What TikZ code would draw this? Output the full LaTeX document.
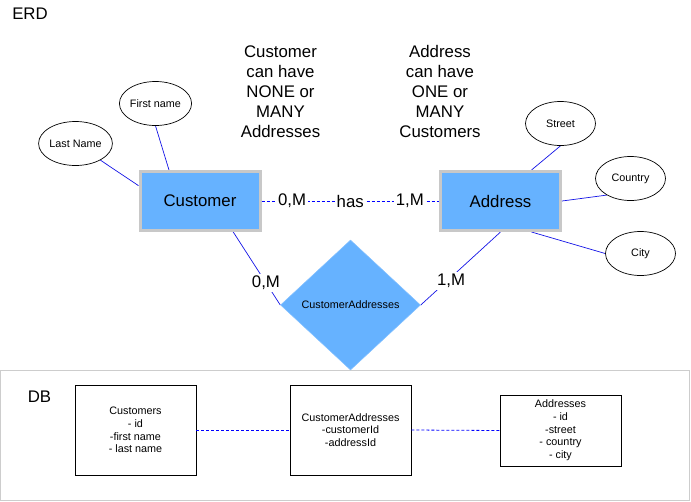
\documentclass[tikz,border=0pt]{standalone}
\usepackage{fontspec}
\setmainfont{Liberation Sans}
\usetikzlibrary{shapes.geometric,backgrounds}
\definecolor{cfill}{RGB}{102,178,255}
\definecolor{cgray}{RGB}{200,200,200}
\definecolor{lblue}{RGB}{20,20,230}
\definecolor{dblue}{RGB}{0,0,255}
\definecolor{dbgray}{RGB}{205,205,205}
\newcommand{\bigf}{\fontsize{16.8}{20}\selectfont}
\newcommand{\smallf}{\fontsize{10.8}{12.7}\selectfont}
\tikzset{
  entity/.style={rectangle, fill=cfill, draw=cgray, line width=3pt, minimum width=120pt, minimum height=59pt, inner sep=0pt, font=\bigf},
  attr/.style={ellipse, draw=black, line width=0.7pt, minimum width=70pt, minimum height=44pt, inner sep=0pt, font=\smallf},
  relship/.style={diamond, fill=cfill, draw=cfill!80!white, line width=0.5pt, minimum width=140pt, minimum height=130pt, inner sep=0pt, font=\smallf},
  lnk/.style={draw=lblue, line width=0.7pt},
  dlnk/.style={draw=dblue, line width=0.8pt, dash pattern=on 3pt off 2pt},
  lbl/.style={fill=white, inner sep=2pt, font=\bigf},
  note/.style={align=center, font=\bigf},
  tbl/.style={rectangle, draw=black, line width=0.8pt, align=center, inner sep=0pt, font=\smallf},
  title/.style={font=\bigf}
}
\begin{document}
\begin{tikzpicture}[x=1pt, y=-1pt]
\useasboundingbox (0,0) rectangle (691,501);
% DB frame
\draw[dbgray, line width=1pt] (0.5,370.5) rectangle (689.5,500);
% titles
\node[title] (erd) at (30,14) {ERD};
\node[title] (db) at (39.5,397) {DB};
% notes
\node[note] (n1) at (280.5,91.5) {Customer\\can have\\NONE or\\MANY\\Addresses};
\node[note] (n2) at (440,91.5) {Address\\can have\\ONE or\\MANY\\Customers};
% attributes
\node[attr] (fn) at (155.5,103.5) {First name};
\node[attr] (ln) at (75.5,143.5) {Last Name};
\node[attr] (st) at (560.5,123.5) {Street};
\node[attr] (co) at (630.5,178.5) {Country};
\node[attr] (ci) at (640.5,253.5) {City};
% relationship
\node[relship] (rel) at (350.5,305) {CustomerAddresses};
% entities
\node[entity] (cust) at (200,201) {Customer};
\node[entity] (addr) at (500.5,201) {Address};
\begin{pgfonlayer}{background}
% attribute links
\draw[lnk] (fn.south) -- (cust.135);
\draw[lnk] (ln) -- (cust.166);
\draw[lnk] (st.south) -- (addr.45);
\draw[lnk] (co.215) -- (addr.east);
\draw[lnk] (ci.west) -- (addr.-45);
% relationship links
\draw[lnk] (cust.-43) -- node[lbl, pos=0.695] {0,M} (rel.west);
\draw[lnk] (addr.south) -- node[lbl, pos=0.67, xshift=4pt] {1,M} (rel.east);
\end{pgfonlayer}
% has link
\draw[dlnk] (cust.east) -- node[lbl, pos=0.172] {0,M} node[lbl, pos=0.5] {has} node[lbl, pos=0.836] {1,M} (addr.west);
% DB tables
\node[tbl, minimum width=121pt, minimum height=90pt] (tc) at (135.5,430) {Customers\\- id\\-first name\\- last name};
\node[tbl, minimum width=121pt, minimum height=90pt] (tca) at (350.5,430) {CustomerAddresses\\-customerId\\-addressId};
\node[tbl, minimum width=121pt, minimum height=71pt] (ta) at (560.5,430.5) {Addresses\\- id\\-street\\- country\\- city};
\draw[dlnk] (tc.east) -- (tca.west);
\draw[dlnk] (tca.east) -- (ta.west);
\end{tikzpicture}
\end{document}
